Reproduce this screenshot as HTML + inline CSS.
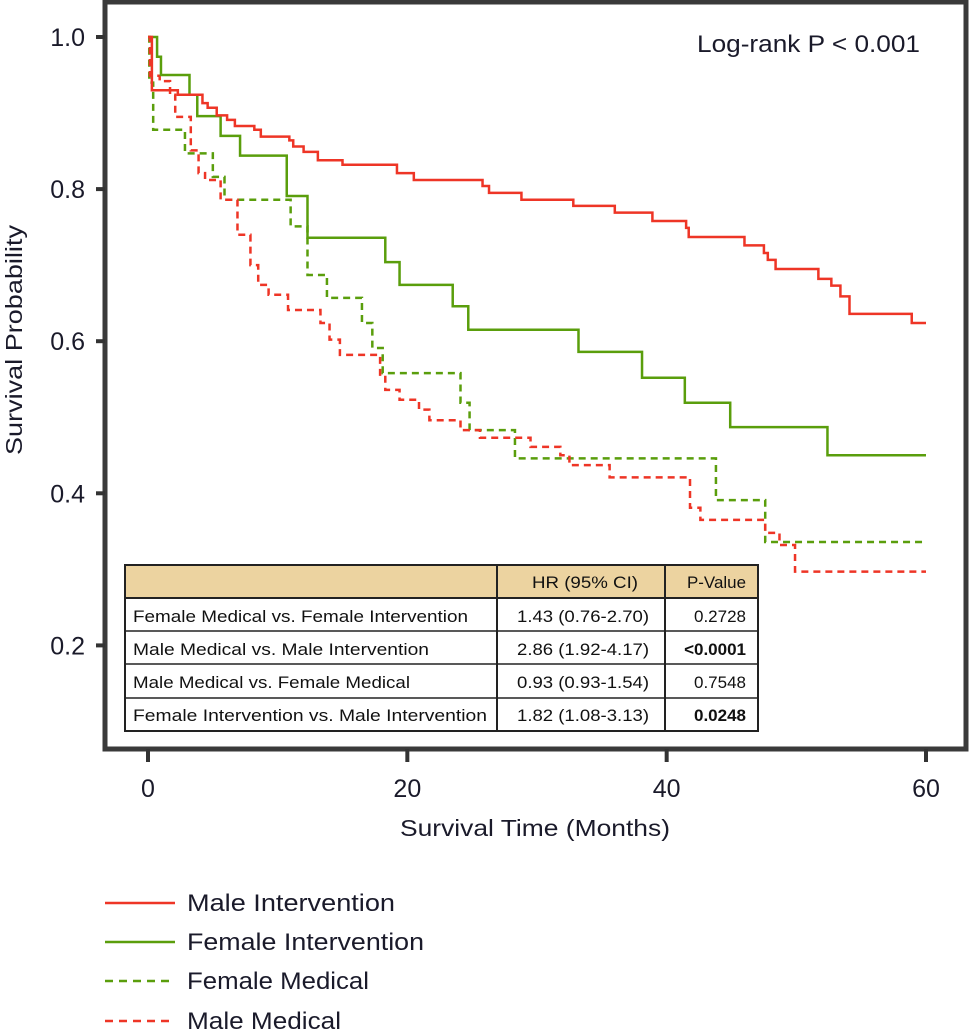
<!DOCTYPE html>
<html><head><meta charset="utf-8"><style>
html,body{margin:0;padding:0;background:#fff;}
svg{display:block;font-family:"Liberation Sans",sans-serif;}
</style></head><body>
<svg id="chart" width="969" height="1031" viewBox="0 0 969 1031">
<rect x="105" y="2" width="861" height="747" fill="#fff" stroke="#3a3a3a" stroke-width="5"/>
<g id="yaxis"></g>
<g id="xaxis"></g>
<g id="series"></g>
<text x="697" y="52" font-size="24" textLength="223" lengthAdjust="spacingAndGlyphs" fill="#1a1a2a">Log-rank P &lt; 0.001</text>
<text transform="translate(22,340) rotate(-90)" font-size="23" text-anchor="middle" textLength="230" lengthAdjust="spacingAndGlyphs" fill="#1a1a2a">Survival Probability</text>
<text x="535" y="836" font-size="23" text-anchor="middle" textLength="270" lengthAdjust="spacingAndGlyphs" fill="#1a1a2a">Survival Time (Months)</text>
<g font-size="17" fill="#111">
<rect x="125" y="565" width="633" height="33" fill="#ecd3a0"/>
<rect x="125" y="565" width="633" height="166" fill="none" stroke="#222" stroke-width="2"/>
<line x1="497" y1="565" x2="497" y2="731" stroke="#222" stroke-width="2"/>
<line x1="665" y1="565" x2="665" y2="731" stroke="#222" stroke-width="2"/>
<line x1="125" y1="598" x2="758" y2="598" stroke="#222" stroke-width="2"/>
<line x1="125" y1="631" x2="758" y2="631" stroke="#222" stroke-width="1.5"/>
<line x1="125" y1="664" x2="758" y2="664" stroke="#222" stroke-width="1.5"/>
<line x1="125" y1="698" x2="758" y2="698" stroke="#222" stroke-width="1.5"/>
<text x="532" y="588" textLength="106" lengthAdjust="spacingAndGlyphs">HR (95% CI)</text>
<text x="687" y="588" textLength="59" lengthAdjust="spacingAndGlyphs">P-Value</text>
<text x="133" y="622" textLength="335" lengthAdjust="spacingAndGlyphs">Female Medical vs. Female Intervention</text>
<text x="517" y="622" textLength="132" lengthAdjust="spacingAndGlyphs">1.43 (0.76-2.70)</text>
<text x="746" y="622" text-anchor="end">0.2728</text>
<text x="133" y="655" textLength="296" lengthAdjust="spacingAndGlyphs">Male Medical vs. Male Intervention</text>
<text x="517" y="655" textLength="132" lengthAdjust="spacingAndGlyphs">2.86 (1.92-4.17)</text>
<text x="746" y="655" text-anchor="end" font-weight="bold">&lt;0.0001</text>
<text x="133" y="688" textLength="277" lengthAdjust="spacingAndGlyphs">Male Medical vs. Female Medical</text>
<text x="517" y="688" textLength="132" lengthAdjust="spacingAndGlyphs">0.93 (0.93-1.54)</text>
<text x="746" y="688" text-anchor="end">0.7548</text>
<text x="133" y="721" textLength="354" lengthAdjust="spacingAndGlyphs">Female Intervention vs. Male Intervention</text>
<text x="517" y="721" textLength="132" lengthAdjust="spacingAndGlyphs">1.82 (1.08-3.13)</text>
<text x="746" y="721" text-anchor="end" font-weight="bold">0.0248</text>
</g>
<g font-size="24" fill="#1a1a2a">
<g><line x1="105" y1="903" x2="175" y2="903" stroke="#ee3526" stroke-width="2.5"/><text x="187" y="911" textLength="208" lengthAdjust="spacingAndGlyphs">Male Intervention</text></g>
<g><line x1="105" y1="942" x2="175" y2="942" stroke="#5a9e0c" stroke-width="2.5"/><text x="187" y="950" textLength="237" lengthAdjust="spacingAndGlyphs">Female Intervention</text></g>
<g><line x1="105" y1="981" x2="175" y2="981" stroke="#5a9e0c" stroke-width="2.5" stroke-dasharray="8,6"/><text x="187" y="989" textLength="182" lengthAdjust="spacingAndGlyphs">Female Medical</text></g>
<g><line x1="105" y1="1021" x2="175" y2="1021" stroke="#ee3526" stroke-width="2.5" stroke-dasharray="8,6"/><text x="187" y="1029" textLength="154" lengthAdjust="spacingAndGlyphs">Male Medical</text></g>
</g>
</svg>
<script>
const xTicks=[0,20,40,60];
const yTicks=[0.2,0.4,0.6,0.8,1.0];
const yTickLabels=["0.2","0.4","0.6","0.8","1.0"];
const maleIntT=[0,0.3,2.3,4.2,4.6,5.3,6.1,6.7,8.2,8.7,10.9,11.2,12.0,13.1,15.0,19.2,20.5,25.8,26.3,28.8,32.8,36.0,38.9,41.5,41.7,46.0,47.5,47.8,48.4,51.7,52.7,53.4,54.1,58.9];
const maleIntS=[1.0,0.930,0.924,0.913,0.907,0.897,0.891,0.883,0.878,0.869,0.864,0.856,0.849,0.838,0.832,0.821,0.812,0.804,0.795,0.786,0.778,0.769,0.758,0.749,0.737,0.726,0.716,0.707,0.695,0.682,0.673,0.659,0.636,0.624];
const femIntT=[0,0.7,1.0,3.2,3.8,5.6,7.1,10.7,12.3,18.3,19.4,23.5,24.7,33.2,38.1,41.4,44.9,52.4];
const femIntS=[1.0,0.974,0.950,0.924,0.896,0.870,0.844,0.791,0.736,0.704,0.674,0.646,0.615,0.586,0.552,0.519,0.487,0.450];
const femMedT=[0,0.1,0.4,2.85,5.0,5.9,11.0,12.3,13.8,16.5,17.3,18.1,24.1,24.8,28.3,43.8,47.6];
const femMedS=[1.0,0.940,0.878,0.847,0.816,0.786,0.751,0.687,0.657,0.624,0.591,0.558,0.519,0.483,0.446,0.391,0.336];
const maleMedT=[0,0.15,0.9,1.7,2.1,3.3,3.9,4.4,5.6,6.9,7.9,8.5,9.3,10.8,13.3,14.0,14.8,17.9,18.3,19.4,20.9,21.7,24.1,25.6,29.5,31.8,32.5,35.6,41.8,42.6,47.6,48.7,49.9];
const maleMedS=[1.0,0.949,0.942,0.924,0.895,0.851,0.821,0.812,0.786,0.740,0.700,0.674,0.661,0.641,0.624,0.602,0.582,0.556,0.536,0.523,0.510,0.496,0.483,0.473,0.461,0.450,0.437,0.421,0.381,0.365,0.348,0.332,0.297];
const tEnd=60;
const NS='http://www.w3.org/2000/svg';
function xs(t){return 148+t*(926-148)/60;}
function ys(s){return 37+(1-s)*760.5;}
function mk(tag,attrs,parent){const e=document.createElementNS(NS,tag);for(const k in attrs)e.setAttribute(k,attrs[k]);parent.appendChild(e);return e;}
const ya=document.getElementById('yaxis');
yTicks.forEach((v,i)=>{
 const l=mk('line',{x1:96,x2:105,y1:ys(v),y2:ys(v),stroke:'#333','stroke-width':4},ya);
 
 
 const t=mk('text',{x:85,y:ys(v)+9,'text-anchor':'end','font-size':25,fill:'#1a1a2a'},ya);
 t.textContent=yTickLabels[i];
 
 
});
const xa=document.getElementById('xaxis');
xTicks.forEach(v=>{
 const l=mk('line',{x1:xs(v),x2:xs(v),y1:749,y2:762,stroke:'#333','stroke-width':4},xa);
 
 
 const t=mk('text',{x:xs(v),y:797,'text-anchor':'middle','font-size':25,fill:'#1a1a2a'},xa);
 t.textContent=String(v);
 
 
});
const sg=document.getElementById('series');
function step(T,S,color,dash,name){
 let d='M'+xs(T[0])+','+ys(S[0]);
 for(let i=1;i<T.length;i++){d+=' H'+xs(T[i])+' V'+ys(S[i]);}
 d+=' H'+xs(tEnd);
 const p=mk('path',{d:d,fill:'none',stroke:color,'stroke-width':2.5},sg);
 if(dash)p.setAttribute('stroke-dasharray','7,5');
 
 
}
step(femMedT,femMedS,'#5a9e0c',true,'female-medical-curve');
step(maleMedT,maleMedS,'#ee3526',true,'male-medical-curve');
step(femIntT,femIntS,'#5a9e0c',false,'female-intervention-curve');
step(maleIntT,maleIntS,'#ee3526',false,'male-intervention-curve');
</script>
</body></html>
